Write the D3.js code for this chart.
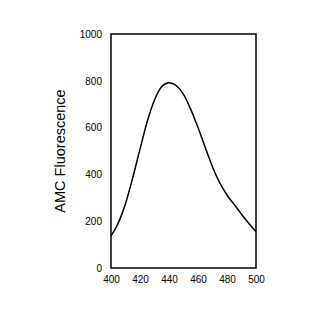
<!DOCTYPE html>
<html>
<head>
<meta charset="utf-8">
<script src="https://cdn.jsdelivr.net/npm/d3@7"></script>
<style>
  body { margin: 0; background: #fff; }
  text { font-family: "Liberation Sans", Arial, sans-serif; fill: #000; }
</style>
</head>
<body>
<div id="container"></div>
<script>
// emission spectrum (nm, a.u.)
const wavelengths = [400, 405, 410, 415, 420, 425, 430, 435, 440, 445, 450,
                     455, 460, 465, 470, 475, 480, 485, 490, 495, 500];
const fluorescence = [137, 192, 275, 386, 508, 626, 718, 776, 792, 780, 742,
                      678, 600, 515, 432, 364, 312, 271, 230, 191, 155];
const xTicks = [400, 420, 440, 460, 480, 500];
const yTicks = [0, 200, 400, 600, 800, 1000];

const width = 320, height = 320;
const margin = {top: 34, right: 64, bottom: 52, left: 111};

const svg = d3.select("#container")
    .append("svg")
    .attr("width", width)
    .attr("height", height);

const x = d3.scaleLinear()
    .domain([400, 500])
    .range([margin.left, width - margin.right]);

const y = d3.scaleLinear()
    .domain([0, 1000])
    .range([height - margin.bottom, margin.top]);

// frame
svg.append("rect")
    .attr("x", x(400))
    .attr("y", y(1000))
    .attr("width", x(500) - x(400))
    .attr("height", y(0) - y(1000))
    .attr("fill", "none")
    .attr("stroke", "#000")
    .attr("stroke-width", 1.5);

const xAxis = svg.append("g")
    .attr("transform", `translate(0,${y(0)})`)
    .call(d3.axisBottom(x).tickValues(xTicks).tickFormat(d3.format("d"))
        .tickSize(0).tickPadding(8));

const yAxis = svg.append("g")
    .attr("transform", `translate(${x(400)},0)`)
    .call(d3.axisLeft(y).tickValues(yTicks).tickFormat(d3.format("d"))
        .tickSize(0).tickPadding(9));

[xAxis, yAxis].forEach(g => {
    g.select(".domain").remove();
    g.selectAll("text")
        .style("font-size", "10px")
        .style("font-family", "Liberation Sans, Arial, sans-serif");
});

svg.append("text")
    .attr("transform", `translate(65,${(y(0) + y(1000)) / 2}) rotate(-90)`)
    .attr("text-anchor", "middle")
    .style("font-size", "14.5px")
    .text("AMC Fluorescence");

const points = wavelengths.map((w, i) => [w, fluorescence[i]]);

const line = d3.line()
    .x(d => x(d[0]))
    .y(d => y(d[1]))
    .curve(d3.curveMonotoneX);

svg.append("path")
    .datum(points)
    .attr("d", line)
    .attr("fill", "none")
    .attr("stroke", "#000")
    .attr("stroke-width", 1.5);
</script>
</body>
</html>
